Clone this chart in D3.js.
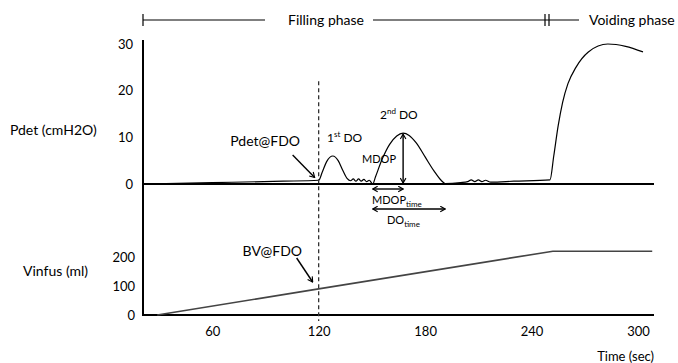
<!DOCTYPE html>
<html>
<head>
<meta charset="utf-8">
<script src="https://cdn.jsdelivr.net/npm/d3@7"></script>
<style>
  body { margin: 0; background: #fff; }
  svg { font-family: Lato, "Open Sans", sans-serif; }
</style>
</head>
<body>
<svg id="chart" width="678" height="363"></svg>
<script>
// Pdet trace (cmH2O) over time (sec)
const pdetTime = [21, 60, 100, 120, 122, 124.5, 128, 131, 133.5, 136,
  138, 139.5, 141, 142.5, 144, 145.5, 147, 148.5, 150.5,
  152, 156, 160, 164, 167.6, 171, 175, 180, 185, 189, 191.3,
  200, 204, 206, 208, 210, 212, 214, 217, 230, 250.4,
  252.5, 255, 257.5, 260.5, 265, 272, 283, 293, 302.8];
const pdetValue = [0, 0.3, 0.6, 0.8, 2.5, 4.8, 6.0, 5.0, 3.0, 1.2,
  0.7, 1.1, 0.6, 1.1, 0.6, 1.0, 0.5, 0.8, 0.0,
  1.5, 5.5, 8.5, 10.3, 10.9, 10.4, 8.8, 5.8, 2.8, 0.8, 0.1,
  0.3, 0.5, 0.9, 0.5, 0.9, 0.5, 0.8, 0.4, 0.6, 0.9,
  6, 12.5, 17.5, 21.5, 25, 28.3, 30, 29.5, 28.3];

// infused volume (ml)
const vinfTime = [29, 120, 252, 308];
const vinfValue = [0, 90, 220, 220];

const timeTicks = [60, 120, 180, 240, 300];
const pdetTicks = [0, 10, 20, 30];
const vinfTicks = [0, 100, 200];

const fdoTime = 120;      // first detrusor overactivity
const doStart = 150.5, mdopTime = 167.6, doEnd = 191.3, mdopValue = 10.9;

const svg = d3.select('#chart');

const x = d3.scaleLinear().domain([21, 309]).range([143, 654]);
const yP = d3.scaleLinear().domain([0, 30]).range([184, 44]);
const yV = d3.scaleLinear().domain([0, 200]).range([315, 257]);

// arrow heads
const defs = svg.append('defs');
['end', 'start'].forEach(k => {
  defs.append('marker')
    .attr('id', 'arr-' + k)
    .attr('viewBox', '0 0 10 10')
    .attr('refX', k === 'end' ? 9 : 1).attr('refY', 5)
    .attr('markerWidth', 7).attr('markerHeight', 7)
    .attr('markerUnits', 'userSpaceOnUse')
    .attr('orient', 'auto')
    .append('path')
    .attr('d', k === 'end' ? 'M2,1 L9,5 L2,9' : 'M8,1 L1,5 L8,9')
    .attr('fill', 'none').attr('stroke', '#000').attr('stroke-width', 1.6);
});

// header: phases
const hdr = svg.append('g').attr('stroke', '#000').attr('stroke-width', 1.2);
hdr.append('line').attr('x1', 143).attr('x2', 143).attr('y1', 14).attr('y2', 26);
hdr.append('line').attr('x1', 143).attr('x2', 265).attr('y1', 20).attr('y2', 20);
hdr.append('line').attr('x1', 373).attr('x2', 579).attr('y1', 20).attr('y2', 20);
hdr.append('line').attr('x1', 545).attr('x2', 545).attr('y1', 14).attr('y2', 26);
hdr.append('line').attr('x1', 549).attr('x2', 549).attr('y1', 14).attr('y2', 26);
svg.append('text').attr('x', 288).attr('y', 20).attr('dy', '0.35em')
  .attr('font-size', 14).text('Filling phase');
svg.append('text').attr('x', 589).attr('y', 20).attr('dy', '0.35em')
  .attr('font-size', 14).text('Voiding phase');

// axes
svg.append('line').attr('x1', x(21)).attr('x2', x(21))
  .attr('y1', yP(30) - 4).attr('y2', yV(0) + 1)
  .attr('stroke', '#000').attr('stroke-width', 2);
svg.append('line').attr('x1', x(21)).attr('x2', x(309))
  .attr('y1', yP(0)).attr('y2', yP(0))
  .attr('stroke', '#000').attr('stroke-width', 2);
svg.append('line').attr('x1', x(21)).attr('x2', x(309))
  .attr('y1', yV(0)).attr('y2', yV(0))
  .attr('stroke', '#000').attr('stroke-width', 2.2);

const gP = svg.append('g').attr('transform', `translate(${x(21)},0)`)
  .call(d3.axisLeft(yP).tickValues(pdetTicks).tickSize(0).tickPadding(10));
const gV = svg.append('g').attr('transform', `translate(${x(21)},0)`)
  .call(d3.axisLeft(yV).tickValues(vinfTicks).tickSize(0).tickPadding(8));
const gX = svg.append('g').attr('transform', `translate(0,${yV(0)})`)
  .call(d3.axisBottom(x).tickValues(timeTicks).tickSize(0).tickPadding(12));
[gP, gV, gX].forEach(g => {
  g.select('.domain').remove();
  g.selectAll('text').attr('font-size', 13).attr('font-family', 'Lato, sans-serif').attr('fill', '#000');
});

svg.append('text').attr('x', 10).attr('y', 130).attr('dy', '0.35em')
  .attr('font-size', 14).text('Pdet (cmH2O)');
svg.append('text').attr('x', 23).attr('y', 271).attr('dy', '0.35em')
  .attr('font-size', 14).text('Vinfus (ml)');
svg.append('text').attr('x', 654).attr('y', 356).attr('dy', '0.35em')
  .attr('text-anchor', 'end').attr('font-size', 13).text('Time (sec)');

// traces
const pdetPts = pdetTime.map((t, i) => [t, pdetValue[i]]);
svg.append('path')
  .attr('d', d3.line().x(d => x(d[0])).y(d => yP(d[1])).curve(d3.curveMonotoneX)(pdetPts))
  .attr('fill', 'none').attr('stroke', '#000').attr('stroke-width', 1.2);

const vinfPts = vinfTime.map((t, i) => [t, vinfValue[i]]);
svg.append('path')
  .attr('d', d3.line().x(d => x(d[0])).y(d => yV(d[1]))(vinfPts))
  .attr('fill', 'none').attr('stroke', '#444').attr('stroke-width', 1.6);

// FDO dashed marker
svg.append('line').attr('x1', x(fdoTime)).attr('x2', x(fdoTime))
  .attr('y1', yP(22)).attr('y2', yV(0) + 6)
  .attr('stroke', '#333').attr('stroke-width', 1.3).attr('stroke-dasharray', '4,3');

// annotations
function arrow(x1, y1, x2, y2, both) {
  const l = svg.append('line').attr('x1', x1).attr('y1', y1).attr('x2', x2).attr('y2', y2)
    .attr('stroke', '#000').attr('stroke-width', 1.4)
    .attr('marker-end', 'url(#arr-end)');
  if (both) l.attr('marker-start', 'url(#arr-start)');
}

svg.append('text').attr('x', 300).attr('y', 141).attr('dy', '0.35em')
  .attr('text-anchor', 'end').attr('font-size', 14).text('Pdet@FDO');
arrow(x(fdoTime) - 26, yP(6.2), x(fdoTime) - 4, yP(1.4));

svg.append('text').attr('x', 302).attr('y', 251).attr('dy', '0.35em')
  .attr('text-anchor', 'end').attr('font-size', 14).text('BV@FDO');
arrow(x(fdoTime) - 22, yV(0) - 57, x(fdoTime) - 6, yV(0) - 33);

const t1 = svg.append('text').attr('x', 327).attr('y', 138).attr('dy', '0.35em').attr('font-size', 12);
t1.append('tspan').text('1');
t1.append('tspan').attr('dy', -5).attr('font-size', 8).text('st');
t1.append('tspan').attr('dy', 5).text(' DO');

const t2 = svg.append('text').attr('x', 380).attr('y', 115).attr('dy', '0.35em').attr('font-size', 12);
t2.append('tspan').text('2');
t2.append('tspan').attr('dy', -5).attr('font-size', 8).text('nd');
t2.append('tspan').attr('dy', 5).text(' DO');

svg.append('text').attr('x', 379).attr('y', 159).attr('dy', '0.35em')
  .attr('text-anchor', 'middle').attr('font-size', 11).text('MDOP');
arrow(x(mdopTime), yP(mdopValue) + 1, x(mdopTime), yP(0) - 1, true);

arrow(x(doStart), yP(0) + 5, x(mdopTime), yP(0) + 5, true);
const tm = svg.append('text').attr('x', 372).attr('y', 200).attr('dy', '0.35em').attr('font-size', 11);
tm.append('tspan').text('MDOP');
tm.append('tspan').attr('dy', 3).attr('font-size', 8).text('time');

arrow(x(doStart), yP(0) + 25, x(doEnd), yP(0) + 25, true);
const td = svg.append('text').attr('x', 387).attr('y', 220).attr('dy', '0.35em').attr('font-size', 11);
td.append('tspan').text('DO');
td.append('tspan').attr('dy', 3).attr('font-size', 8).text('time');
</script>
</body>
</html>
